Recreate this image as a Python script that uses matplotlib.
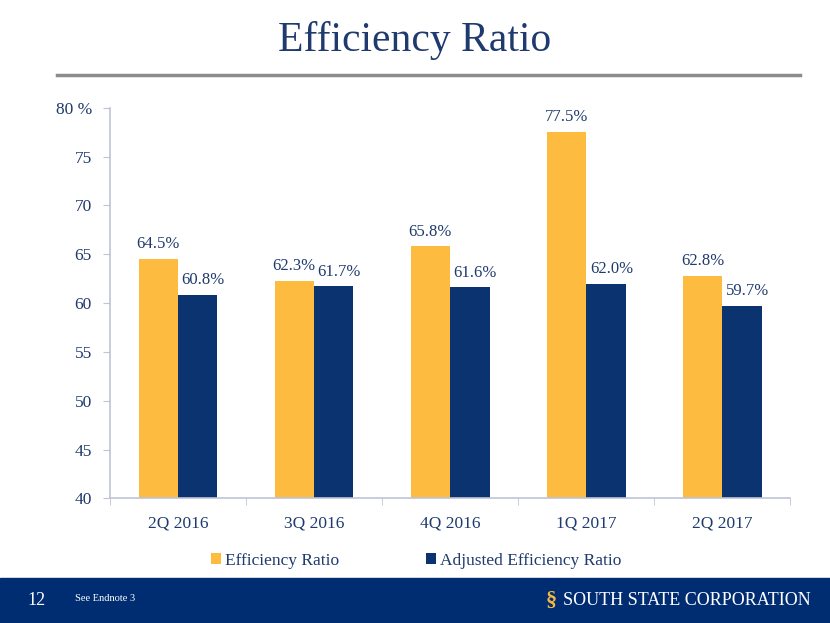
import matplotlib
matplotlib.use('Agg')
import matplotlib.pyplot as plt
import matplotlib.patches as mpatches
import numpy as np

quarters = ['2Q 2016', '3Q 2016', '4Q 2016', '1Q 2017', '2Q 2017']
efficiency = [64.5, 62.3, 65.8, 77.5, 62.8]
adjusted = [60.8, 61.7, 61.6, 62.0, 59.7]
y_ticks = [40, 45, 50, 55, 60, 65, 70, 75, 80]
y_tick_labels = ['40', '45', '50', '55', '60', '65', '70', '75', '80 %']

YELLOW = '#FDBB3F'
NAVY = '#0B3370'
TEXT = '#1F3A6E'
SPINE = '#BFC3D6'

plt.rcParams['font.family'] = ['Liberation Serif', 'DejaVu Serif']

fig = plt.figure(figsize=(8.3, 6.23), dpi=100)

# 标题和分隔线
fig.text(0.5, 0.935, 'Efficiency Ratio', ha='center', va='center',
         fontsize=30, color=TEXT)
fig.add_artist(plt.Line2D([0.069, 0.964], [0.879, 0.879], color='#8C8C8C',
                          lw=2.5, transform=fig.transFigure))

# 页脚
fig.add_artist(mpatches.Rectangle((0, 0), 1, 0.072, transform=fig.transFigure,
                                  color='#002D72', zorder=0))
fig.text(0.033, 0.036, '12', color='white', fontsize=13, va='center')
fig.text(0.09, 0.04, 'See Endnote 3', color='white', fontsize=7.5, va='center')
fig.text(0.657, 0.036, '§', color='#F4B73F', fontsize=16, va='center',
         fontweight='bold')
fig.text(0.977, 0.036, 'SOUTH STATE CORPORATION', color='white', fontsize=13,
         va='center', ha='right')

# 柱状图
ax = fig.add_axes([0.1325, 0.2, 0.8195, 0.627])
x = np.arange(len(quarters))
w = 0.29
b1 = ax.bar(x - w / 2, efficiency, w, color=YELLOW, label='Efficiency Ratio')
b2 = ax.bar(x + w / 2, adjusted, w, color=NAVY, label='Adjusted Efficiency Ratio')

# 数值标签，右侧系列稍微右移避免重叠
for bars, vals, dx in ((b1, efficiency, 0), (b2, adjusted, 4)):
    for bar, v in zip(bars, vals):
        ax.annotate(f'{v:.1f}%', xy=(bar.get_x() + bar.get_width() / 2, v),
                    xytext=(dx, 5), textcoords='offset points',
                    ha='center', va='bottom', fontsize=12, color=TEXT)

ax.set_ylim(40, 80)
ax.set_xlim(-0.5, len(quarters) - 0.5)
ax.set_yticks(y_ticks)
ax.set_yticklabels(y_tick_labels)
ax.set_xticks(x)
ax.set_xticklabels(quarters)
ax.set_xticks(np.arange(-0.5, len(quarters)), minor=True)

for side in ('top', 'right'):
    ax.spines[side].set_visible(False)
for side in ('left', 'bottom'):
    ax.spines[side].set_color(SPINE)
    ax.spines[side].set_linewidth(1.2)

ax.tick_params(axis='y', colors=SPINE, labelcolor=TEXT, labelsize=12.5,
               length=5, pad=8)
ax.tick_params(axis='x', which='major', length=0, labelcolor=TEXT,
               labelsize=12.5, pad=12)
ax.tick_params(axis='x', which='minor', colors=SPINE, length=5)

ax.legend(loc='upper center', bbox_to_anchor=(0.45, -0.1), ncol=2,
          frameon=False, fontsize=12.5, handlelength=0.6, handleheight=0.6,
          handletextpad=0.2, columnspacing=5, labelcolor=TEXT)

fig.savefig('out.png', dpi=100)
